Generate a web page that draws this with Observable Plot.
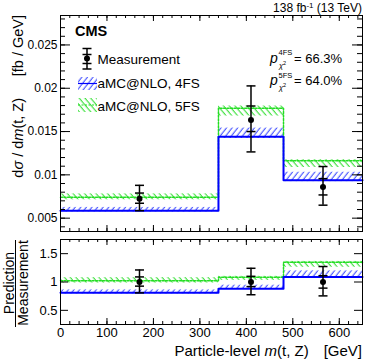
<!DOCTYPE html>
<html><head><meta charset="utf-8">
<script src="https://cdn.jsdelivr.net/npm/d3@7"></script>
<script src="https://cdn.jsdelivr.net/npm/@observablehq/plot@0.6"></script>
<style>
body{margin:0;background:#fff;}
#chart{position:relative;width:374px;height:363px;font-family:"Liberation Sans",Arial,sans-serif;}
#chart svg{position:absolute;left:0;overflow:visible;}
</style></head><body><div id="chart"></div>
<script>
// ---- data ----
const binEdges   = [0, 340, 480, 650];
const binCenters = [170, 410, 565];
const measured   = [0.00725, 0.01632, 0.00861];
const measTotLo  = [0.00586, 0.01265, 0.00650];
const measTotHi  = [0.00879, 0.02027, 0.01096];
const measStatLo = [0.00672, 0.01500, 0.00768];
const measStatHi = [0.00790, 0.01795, 0.00956];
const pred4FS    = [0.00586, 0.01439, 0.00937];
const pred4FSLo  = [0.00572, 0.01420, 0.00922];
const pred4FSHi  = [0.00624, 0.01540, 0.01030];
const pred5FS    = [0.00742, 0.01768, 0.01162];
const pred5FSLo  = [0.00712, 0.01679, 0.01085];
const pred5FSHi  = [0.00780, 0.01795, 0.01174];
const xTickLabels = [0, 100, 200, 300, 400, 500, 600];
const yTickLabels = [0.005, 0.01, 0.015, 0.02, 0.025];
const rTickLabels = [0.5, 1, 1.5];
const pValues = {"4FS": "66.3%", "5FS": "64.0%"};

// ---- helpers ----
const FONT = "Liberation Sans, Arial, sans-serif";
const W = 374, ML = 60, MR = 12, IW = W - ML - MR;
const BLUE = "#0000ff", BLUEH = "#3040ff", GREEN = "#22dd22";
const xDomain = [0, 650];
const yDomain = [0.00346, 0.0284];
const rDomain = [0.25, 1.75];

const bins = binCenters.map((c, i) => ({
  x1: binEdges[i], x2: binEdges[i + 1], c,
  meas: measured[i], totLo: measTotLo[i], totHi: measTotHi[i],
  statLo: measStatLo[i], statHi: measStatHi[i],
  p4: pred4FS[i], p4lo: pred4FSLo[i], p4hi: pred4FSHi[i],
  p5: pred5FS[i], p5lo: pred5FSLo[i], p5hi: pred5FSHi[i]
}));
const ratioBins = bins.map(b => {
  const m = b.meas, o = {x1: b.x1, x2: b.x2, c: b.c};
  for (const k of ["meas","totLo","totHi","statLo","statHi","p4","p4lo","p4hi","p5","p5lo","p5hi"]) o[k] = b[k] / m;
  return o;
});
const steps = (arr, key) => binEdges.map((x, i) => ({x, y: arr[Math.min(i, arr.length - 1)][key]}));
const capSymbol = {draw(ctx) { ctx.moveTo(-4.5, 0); ctx.lineTo(4.5, 0); }};
const range = (a, b, s) => d3.range(Math.round(a / s), Math.round(b / s) + 1).map(k => +(k * s).toFixed(6));
const within = (arr, d) => arr.filter(v => v >= d[0] - 1e-9 && v <= d[1] + 1e-9);

function frameTicks(ih, yMaj, yMin, xMaj, xMin, yLenMaj, yLenMin, xLenMaj, xLenMin) {
  const m = [];
  m.push(Plot.ruleY(yMaj, {y: d => d, insetRight: IW - yLenMaj, stroke: "black"}));
  m.push(Plot.ruleY(yMaj, {y: d => d, insetLeft: IW - yLenMaj, stroke: "black"}));
  if (yMin.length) {
    m.push(Plot.ruleY(yMin, {y: d => d, insetRight: IW - yLenMin, stroke: "black"}));
    m.push(Plot.ruleY(yMin, {y: d => d, insetLeft: IW - yLenMin, stroke: "black"}));
  }
  m.push(Plot.ruleX(xMaj, {x: d => d, insetTop: ih - xLenMaj, stroke: "black"}));
  m.push(Plot.ruleX(xMaj, {x: d => d, insetBottom: ih - xLenMaj, stroke: "black"}));
  m.push(Plot.ruleX(xMin, {x: d => d, insetTop: ih - xLenMin, stroke: "black"}));
  m.push(Plot.ruleX(xMin, {x: d => d, insetBottom: ih - xLenMin, stroke: "black"}));
  return m;
}
function dataMarks(data, suffix) {
  return [
    Plot.rect(data, {x1: "x1", x2: "x2", y1: "p5lo", y2: "p5hi", fill: `url(#hg${suffix})`}),
    Plot.rect(data, {x1: "x1", x2: "x2", y1: "p4lo", y2: "p4hi", fill: `url(#hb${suffix})`}),
    Plot.line(steps(data, "p5"), {x: "x", y: "y", curve: "step-after", stroke: GREEN, strokeWidth: 1.5, strokeDasharray: "2,1.5"}),
    Plot.line(steps(data, "p4"), {x: "x", y: "y", curve: "step-after", stroke: BLUE, strokeWidth: 2}),
    Plot.ruleX(data, {x: "c", y1: "totLo", y2: "totHi", stroke: "black", strokeWidth: 1.5}),
    ...["totLo", "totHi", "statLo", "statHi"].map(k =>
      Plot.dot(data, {x: "c", y: k, symbol: capSymbol, stroke: "black", strokeWidth: 1.5, fill: "none"})),
    Plot.dot(data, {x: "c", y: "meas", r: 3, fill: "black", stroke: "none"})
  ];
}
function addDefs(svg, suffix) {
  const defs = d3.select(svg).insert("defs", ":first-child");
  const pb = defs.append("pattern").attr("id", "hb" + suffix).attr("patternUnits", "userSpaceOnUse")
    .attr("width", 4.4).attr("height", 8).attr("patternTransform", "rotate(38)");
  pb.append("line").attr("x1", 2).attr("x2", 2).attr("y1", 0).attr("y2", 8).attr("stroke", BLUEH).attr("stroke-width", 1);
  const pg = defs.append("pattern").attr("id", "hg" + suffix).attr("patternUnits", "userSpaceOnUse")
    .attr("width", 4.4).attr("height", 8).attr("patternTransform", "rotate(-40)");
  pg.append("line").attr("x1", 2).attr("x2", 2).attr("y1", 0).attr("y2", 8).attr("stroke", GREEN).attr("stroke-width", 1);
}

// ---- top panel ----
const topH = 236, topMT = 15, topMB = 5, topIH = topH - topMT - topMB;
const topSvg = Plot.plot({
  width: W, height: topH, marginLeft: ML, marginRight: MR, marginTop: topMT, marginBottom: topMB,
  x: {domain: xDomain, axis: null},
  y: {domain: yDomain, axis: null},
  style: {fontFamily: FONT, fontSize: "12px", background: "white", color: "black"},
  marks: [
    ...dataMarks(bins, "1"),
    ...frameTicks(topIH,
      within(range(0.005, 0.025, 0.005), yDomain), within(range(0.004, 0.028, 0.001), yDomain),
      range(0, 600, 100), range(0, 640, 20), 10, 5, 6, 3),
    Plot.frame({stroke: "black"}),
    Plot.axisY(yTickLabels, {tickSize: 0, tickPadding: 3, label: null, tickFormat: d => String(d)})
  ]
});
topSvg.style.top = "0px";
addDefs(topSvg, "1");

// ---- ratio panel ----
const botTop = 231, botH = 132, botMT = 8, botMB = 39, botIH = botH - botMT - botMB;
const botSvg = Plot.plot({
  width: W, height: botH, marginLeft: ML, marginRight: MR, marginTop: botMT, marginBottom: botMB,
  x: {domain: xDomain, axis: null},
  y: {domain: rDomain, axis: null},
  style: {fontFamily: FONT, fontSize: "13px", background: "transparent", color: "black"},
  marks: [
    ...dataMarks(ratioBins, "2"),
    ...frameTicks(botIH, rTickLabels, [], range(0, 600, 100), range(0, 640, 20), 8, 4, 6, 3),
    Plot.frame({stroke: "black"}),
    Plot.axisY(rTickLabels, {tickSize: 0, tickPadding: 3, label: null, tickFormat: d => String(d)}),
    Plot.axisX(xTickLabels, {tickSize: 0, tickPadding: 3, label: null, tickFormat: d => String(d)})
  ]
});
botSvg.style.top = botTop + "px";
addDefs(botSvg, "2");

const chart = document.getElementById("chart");
chart.append(topSvg, botSvg);

// ---- annotations (text) ----
const st = d3.select(topSvg);
const ann = st.append("g").attr("font-family", FONT).attr("text-anchor", "start");
const lumi = ann.append("text").attr("x", 362).attr("y", 12).attr("text-anchor", "end").attr("font-size", 12);
lumi.append("tspan").text("138 fb");
lumi.append("tspan").attr("dy", -4).attr("font-size", 8).text("-1");
lumi.append("tspan").attr("dy", 4).text(" (13 TeV)");

ann.append("text").attr("x", 75).attr("y", 36).attr("font-size", 14.5).attr("font-weight", "bold").text("CMS");

// legend
const lg = ann.append("g").attr("font-size", 13.5);
lg.append("line").attr("x1", 87).attr("x2", 87).attr("y1", 48).attr("y2", 69).attr("stroke", "black").attr("stroke-width", 1.5);
for (const y of [48.5, 54.5, 63.5, 69]) lg.append("line").attr("x1", 82.5).attr("x2", 91.5).attr("y1", y).attr("y2", y).attr("stroke", "black").attr("stroke-width", 1.5);
lg.append("circle").attr("cx", 87).attr("cy", 58.5).attr("r", 3).attr("fill", "black");
lg.append("text").attr("x", 97.5).attr("y", 63.5).text("Measurement");
lg.append("rect").attr("x", 78).attr("y", 77).attr("width", 19).attr("height", 13).attr("fill", "url(#hb1)");
lg.append("line").attr("x1", 78).attr("x2", 97).attr("y1", 83.5).attr("y2", 83.5).attr("stroke", BLUE).attr("stroke-width", 1.2);
lg.append("text").attr("x", 97.5).attr("y", 87.5).text("aMC@NLO, 4FS");
lg.append("rect").attr("x", 78).attr("y", 98).attr("width", 19).attr("height", 14).attr("fill", "url(#hg1)");
lg.append("line").attr("x1", 78).attr("x2", 97).attr("y1", 105).attr("y2", 105).attr("stroke", GREEN).attr("stroke-width", 1.2).attr("stroke-dasharray", "2,1.5");
lg.append("text").attr("x", 97.5).attr("y", 110.5).text("aMC@NLO, 5FS");

// p-values
[["4FS", 62.5], ["5FS", 85]].forEach(([k, y]) => {
  const g = ann.append("g");
  g.append("text").attr("x", 270).attr("y", y).attr("font-size", 14).attr("font-style", "italic").text("p");
  g.append("text").attr("x", 278.5).attr("y", y - 7.5).attr("font-size", 7.5).text(k);
  const s = g.append("text").attr("x", 279).attr("y", y + 5).attr("font-size", 7.5);
  s.append("tspan").attr("font-style", "italic").text("χ");
  s.append("tspan").attr("dy", -3).attr("font-size", 5.5).text("2");
  g.append("text").attr("x", 294).attr("y", y).attr("font-size", 13).text("= " + pValues[k]);
});

// y title (top)
const yt = ann.append("text").attr("transform", "translate(23,15) rotate(-90)").attr("text-anchor", "end")
  .attr("font-size", 14.5);
yt.append("tspan").text("d");
yt.append("tspan").attr("font-style", "italic").text("σ");
yt.append("tspan").text(" / d");
yt.append("tspan").attr("font-style", "italic").text("m");
yt.append("tspan").text("(t, Z)\u2003\u2002[fb / GeV]");

// ratio panel titles
const sb = d3.select(botSvg).append("g").attr("font-family", FONT);
const xt = sb.append("text").attr("x", 362).attr("y", 125).attr("text-anchor", "end").attr("font-size", 15);
xt.append("tspan").text("Particle-level ");
xt.append("tspan").attr("font-style", "italic").text("m");
xt.append("tspan").text("(t, Z)\u2003[GeV]");

sb.append("text").attr("transform", "translate(13.5,52) rotate(-90)").attr("text-anchor", "middle")
  .attr("font-size", 14).text("Prediction");
sb.append("line").attr("x1", 15.5).attr("x2", 15.5).attr("y1", 9).attr("y2", 96).attr("stroke", "black").attr("stroke-width", 1);
sb.append("text").attr("transform", "translate(28,52) rotate(-90)").attr("text-anchor", "middle")
  .attr("font-size", 14).text("Measurement");
</script></body></html>
